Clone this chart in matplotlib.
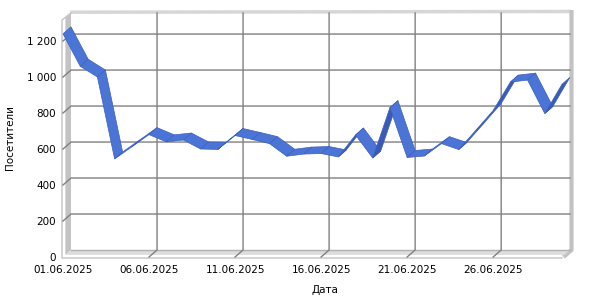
import numpy as np
import matplotlib.pyplot as plt
from matplotlib.patches import Polygon
from matplotlib.lines import Line2D
from matplotlib.transforms import IdentityTransform

days = ["%02d.06.2025" % d for d in range(1, 31)]
visitors = [1240, 1060, 1000, 545, 612, 680, 640, 650, 600, 598,
            675, 653, 630, 560, 572, 575, 556, 678, 550, 830,
            553, 561, 630, 597, 705, 814, 972, 983, 797, 960]
y_ticks = [0, 200, 400, 600, 800, 1000, 1200]
y_tick_labels = ["0", "200", "400", "600", "800", "1 000", "1 200"]
x_tick_idx = [0, 5, 10, 15, 20, 25]

DX, DY = 8, 7          # 3d depth offset in pixels
YMAX = 1317

fig = plt.figure(figsize=(6, 3), dpi=100)
fig.patch.set_facecolor("white")
ax = fig.add_axes([63/600, 43/300, 499/600, 237/300])
ax.set_xlim(0, len(days) - 1)
ax.set_ylim(0, YMAX)
for s in ax.spines.values():
    s.set_visible(False)
ax.set_facecolor("none")
ax.set_yticks(y_ticks, labels=y_tick_labels)
ax.set_xticks(x_tick_idx, labels=[days[i] for i in x_tick_idx])
ax.tick_params(length=0, labelsize=7.5, labelfontfamily="DejaVu Sans")
ax.tick_params(axis="y", pad=5)
ax.tick_params(axis="x", pad=6)


def pt(x, y, k=0.0, ex=0.0, ey=0.0):
    px, py = ax.transData.transform((x, y))
    return (px + k * DX + ex, py + k * DY + ey)


def poly(points, **kw):
    p = Polygon(points, closed=True, transform=IdentityTransform(), clip_on=False, **kw)
    fig.add_artist(p)


def line(points, **kw):
    xs, ys = zip(*points)
    fig.add_artist(Line2D(xs, ys, transform=IdentityTransform(), clip_on=False, **kw))


x0, x1 = 0, len(days) - 1

# top and right bands of the box
line([pt(x0, YMAX, 0.9, 0, 1.5), pt(x1, YMAX, 1, 1.5, 1.5)],
     color="#d6d6d6", lw=2.5, solid_capstyle="butt", zorder=1)
line([pt(x1, YMAX, 1, 1.5, 3), pt(x1, 0, 1, 1.5, 0), pt(x1, 0, 0, 1.5, 0)],
     color="#c2c2c2", lw=3, solid_capstyle="butt", zorder=1)
# left wall and floor
poly([pt(x0, 0, 0.3), pt(x0, YMAX, 0.3), pt(x0, YMAX, 1), pt(x0, 0, 1)],
     facecolor="#c3c3c3", edgecolor="none", zorder=2)
poly([pt(x0, 0, 0.3), pt(x1, 0, 0.3), pt(x1, 0, 1), pt(x0, 0, 1)],
     facecolor="#dddddd", edgecolor="none", zorder=2)
line([pt(x0, 0, 1), pt(x1, 0, 1)], color="#b0b0b0", lw=1, zorder=3)
# thin front outline
line([pt(x0, YMAX, 1), pt(x0, YMAX, 0, -1), pt(x0, 0, 0, -1, -1), pt(x1, 0, 0, 0, -1)],
     color="#c4c4c4", lw=1, zorder=3)

# gridlines
for v in y_ticks[1:]:
    line([pt(x0, v), pt(x0, v, 1), pt(x1, v, 1)], color="#808080", lw=1, zorder=3)
for i in x_tick_idx[1:]:
    line([pt(i, 0), pt(i, 0, 1), pt(i, YMAX, 1)], color="#808080", lw=1, zorder=3)

# ribbon
top_col, dark_col = "#4b74d7", "#3a5bb5"
for i in range(len(visitors) - 1):
    p0 = np.array(pt(i, visitors[i]))
    p1 = np.array(pt(i + 1, visitors[i + 1]))
    s = p1 - p0
    cross = s[0] * DY - s[1] * DX
    col = top_col if cross > 0 else dark_col
    poly([tuple(p0), tuple(p1), pt(i + 1, visitors[i + 1], 1), pt(i, visitors[i], 1)],
         facecolor=col, edgecolor="#3d60bd", lw=0.5, zorder=5)

fig.text(325/600, 1 - 290/300, "Дата", ha="center", va="center", fontsize=7.5)
fig.text(10/600, 1 - 138/300, "Посетители", ha="center", va="center",
         rotation=90, fontsize=7.5)

fig.savefig("out.png", dpi=100)
